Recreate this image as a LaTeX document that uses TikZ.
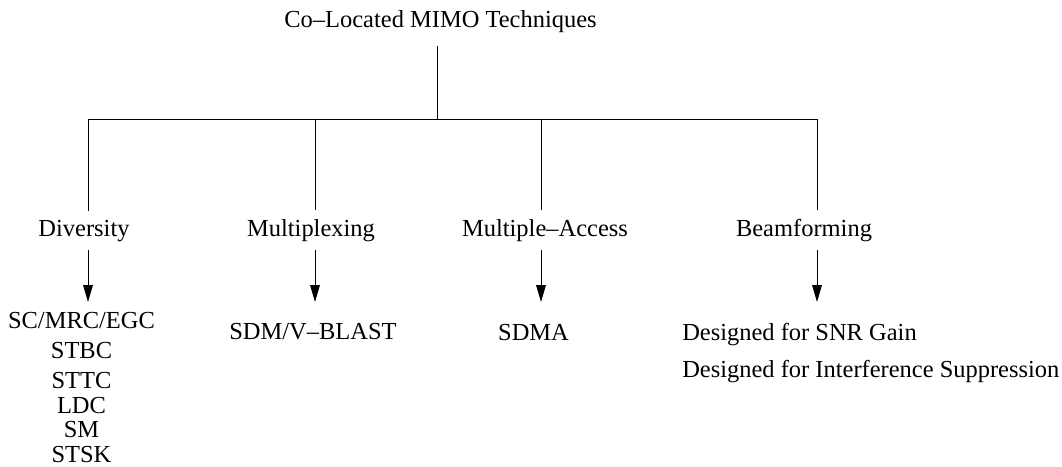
\documentclass[tikz,border=0pt]{standalone}
\usepackage{fontspec}
\setmainfont{Liberation Serif}
\usetikzlibrary{arrows.meta, positioning, calc}
\tikzset{
  txt/.style={anchor=base, inner xsep=0pt, inner ysep=0pt,
    font=\fontsize{17.4}{20}\selectfont},
  branch/.style={txt, inner ysep=0.22cm},
  wire/.style={line width=0.7pt, color=black},
  arrow/.style={-{Triangle[length=0.42cm, width=0.24cm]}, line width=0.7pt, color=black}
}

\begin{document}
\begin{tikzpicture}[x=0.025cm, y=-0.025cm]
  \useasboundingbox (0,0) rectangle (1062,466);

  % Root and bus
  \node[txt, inner ysep=0.32cm] (root) at (440.5,28) {Co--Located MIMO Techniques};
  \coordinate (hub) at (437,119);
  \coordinate (b1) at (88,119);
  \coordinate (b2) at (315,119);
  \coordinate (b3) at (541,119);
  \coordinate (b4) at (817,119);
  \draw[wire] (root.south -| hub) -- (hub);
  \draw[wire] (b1) -- (b4);

  % Branches
  \node[branch] (div) at (84,236) {Diversity};
  \node[branch] (mux) at (311,236) {Multiplexing};
  \node[branch] (acc) at (545,236) {Multiple--Access};
  \node[branch] (bfm) at (804,236) {Beamforming};
  \draw[wire] (b1) -- (b1 |- div.north);
  \draw[wire] (b2) -- (b2 |- mux.north);
  \draw[wire] (b3) -- (b3 |- acc.north);
  \draw[wire] (b4) -- (b4 |- bfm.north);

  % Arrow tips
  \coordinate (t1) at (88,302);
  \coordinate (t2) at (315,302);
  \coordinate (t3) at (541,302);
  \coordinate (t4) at (817,302);
  \draw[arrow] (b1 |- div.south) -- (t1);
  \draw[arrow] (b2 |- mux.south) -- (t2);
  \draw[arrow] (b3 |- acc.south) -- (t3);
  \draw[arrow] (b4 |- bfm.south) -- (t4);

  % Diversity schemes
  \node[txt] (sc) at (81.5,328) {SC/MRC/EGC};
  \node[txt] (stbc) at (81.5,358) {STBC};
  \node[txt] (sttc) at (81.5,388) {STTC};
  \node[txt] (ldc) at (81.5,413) {LDC};
  \node[txt] (sm) at (81.5,437) {SM};
  \node[txt] (stsk) at (81.5,462) {STSK};

  % Other schemes
  \node[txt] (blast) at (313,339) {SDM/V--BLAST};
  \node[txt] (sdma) at (533.5,340) {SDMA};
  \node[txt, anchor=base west] (snr) at (682,340) {Designed for SNR Gain};
  \node[txt, anchor=base west] (sup) at (682,377) {Designed for Interference Suppression};
\end{tikzpicture}
\end{document}
